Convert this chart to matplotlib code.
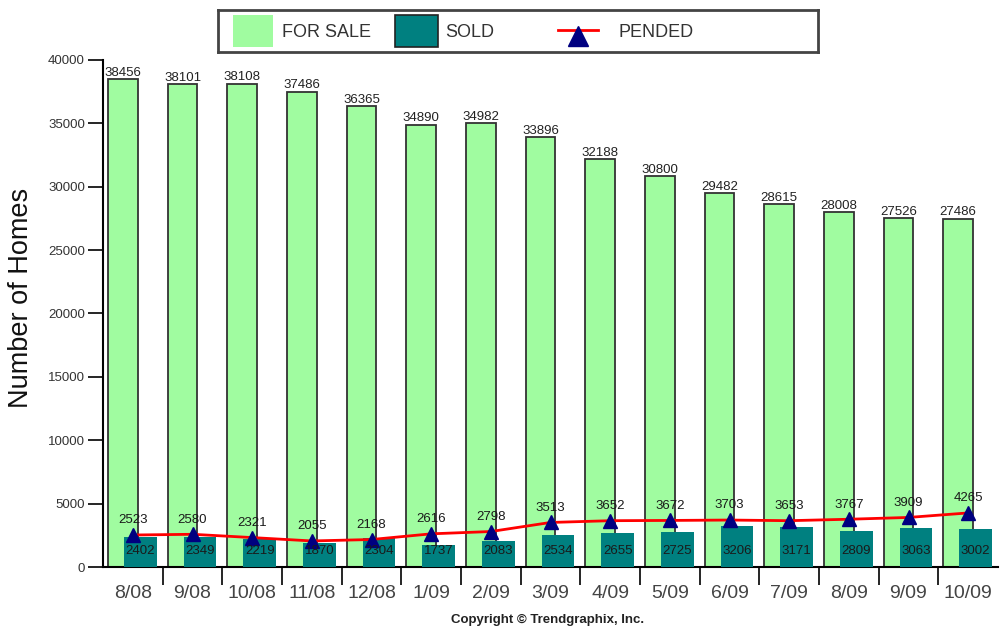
import numpy as np
import matplotlib.pyplot as plt
from matplotlib.patches import Rectangle
from matplotlib.lines import Line2D

plt.rcParams['font.family'] = ['Liberation Sans', 'DejaVu Sans']

months = ['8/08', '9/08', '10/08', '11/08', '12/08', '1/09', '2/09', '3/09',
          '4/09', '5/09', '6/09', '7/09', '8/09', '9/09', '10/09']
for_sale = [38456, 38101, 38108, 37486, 36365, 34890, 34982, 33896,
            32188, 30800, 29482, 28615, 28008, 27526, 27486]
sold = [2402, 2349, 2219, 1870, 2304, 1737, 2083, 2534,
        2655, 2725, 3206, 3171, 2809, 3063, 3002]
pended = [2523, 2580, 2321, 2055, 2168, 2616, 2798, 3513,
          3652, 3672, 3703, 3653, 3767, 3909, 4265]

green = '#a0fca0'
teal = '#008080'
navy = '#000080'

fig = plt.figure(figsize=(10, 6.3), dpi=100)
ax = fig.add_axes([0.103, 0.1, 0.895, 0.805])

x = np.arange(len(months))
ax.bar(x - 0.167, for_sale, width=0.5, color=green, edgecolor='#333333',
       linewidth=1.3, zorder=2)
ax.bar(x + 0.125, sold, width=0.55, color=teal, edgecolor='none', zorder=3)
ax.plot(x, pended, color='red', linewidth=2, zorder=4)
ax.plot(x, pended, linestyle='none', marker='^', markersize=9.5,
        color=navy, zorder=5)

for i in range(len(months)):
    ax.text(x[i] - 0.167, for_sale[i] + 30, str(for_sale[i]), ha='center',
            va='bottom', fontsize=9.5, color='#222222', clip_on=False)
    ax.text(x[i] + 0.125, 1300, str(sold[i]), ha='center',
            va='center', fontsize=9.5, color='#1a1a1a', zorder=6)
    ax.text(x[i], pended[i] + 1150, str(pended[i]), ha='center',
            va='center', fontsize=9.5, color='#1a1a1a', zorder=6)

ax.set_xlim(-0.5, len(months) - 0.5)
ax.set_ylim(0, 40000)
ax.set_yticks(np.arange(0, 40001, 5000))
ax.tick_params(axis='y', length=11, width=1.2, labelsize=9.5,
               labelcolor='#333333', pad=2)
ax.set_xticks(x)
ax.set_xticklabels(months)
ax.tick_params(axis='x', which='major', length=0, labelsize=14,
               labelcolor='#444444', pad=13)
ax.set_xticks(np.arange(0.5, len(months) - 0.5, 1), minor=True)
ax.tick_params(axis='x', which='minor', length=13, width=1.2, direction='out')

for s in ['top', 'right']:
    ax.spines[s].set_visible(False)
ax.spines['left'].set_linewidth(1.5)
ax.spines['bottom'].set_linewidth(1.5)

ax.set_ylabel('Number of Homes', fontsize=19.5, color='#111111')
ax.yaxis.set_label_coords(-0.077, 0.53)

# legend box drawn by hand so its spacing follows the original
lax = fig.add_axes([0.218, 0.9175, 0.6, 0.0667])
lax.set_xlim(0, 1)
lax.set_ylim(0, 1)
lax.set_xticks([])
lax.set_yticks([])
for s in lax.spines.values():
    s.set_linewidth(2)
    s.set_edgecolor('#444444')
lax.add_patch(Rectangle((0.025, 0.12), 0.067, 0.76, facecolor=green,
                        edgecolor='none'))
lax.text(0.107, 0.47, 'FOR SALE', ha='left', va='center', fontsize=13,
         color='#333333')
lax.add_patch(Rectangle((0.295, 0.12), 0.072, 0.76, facecolor=teal,
                        edgecolor='#222222', linewidth=1.2))
lax.text(0.378, 0.47, 'SOLD', ha='left', va='center', fontsize=13,
         color='#333333')
lax.add_line(Line2D([0.567, 0.633], [0.53, 0.53], color='red', linewidth=2))
lax.add_line(Line2D([0.6], [0.38], marker='^', markersize=14, color=navy,
                    linestyle='none'))
lax.text(0.667, 0.47, 'PENDED', ha='left', va='center', fontsize=13,
         color='#333333')

fig.text(0.548, 0.006, 'Copyright \u00a9 Trendgraphix, Inc.', ha='center',
         va='bottom', fontsize=9.5, fontweight='bold', color='#222222')

fig.savefig('out.png', dpi=100)
